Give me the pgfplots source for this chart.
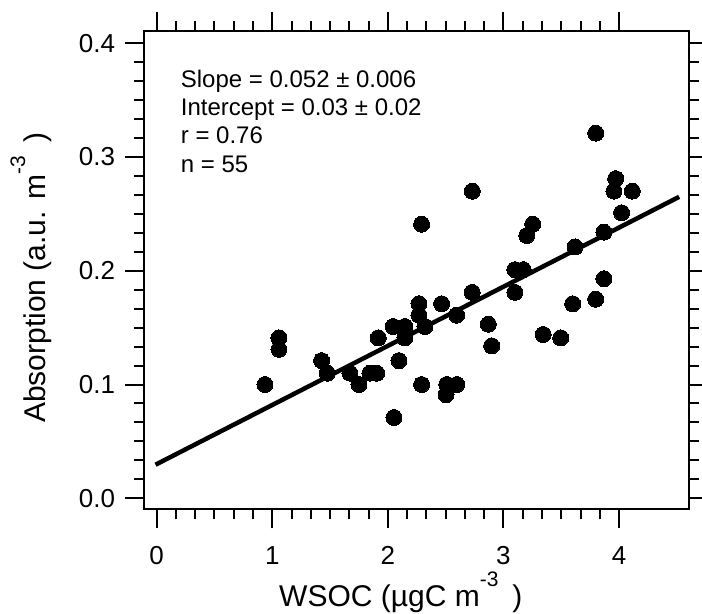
\documentclass[border=0pt]{standalone}
\usepackage{fontspec}
\setmainfont{Liberation Sans}
\usepackage{pgfplots}
\pgfplotsset{compat=1.18}
\begin{document}
\begin{tikzpicture}
\begin{axis}[
  name=ax,
  scale only axis,
  width=544.7bp, height=478.3bp,
  xmin=-0.107, xmax=4.605,
  ymin=-0.0097, ymax=0.4108,
  axis line style={line width=2bp},
  every tick/.style={black, line width=2bp},
  tick align=outside,
  major tick length=19bp,
  minor tick length=10bp,
  xtick={0,1,2,3,4},
  ytick={0,0.1,0.2,0.3,0.4},
  minor x tick num=5,
  minor y tick num=5,
  xticklabels={0,1,2,3,4},
  yticklabels={0.0,0.1,0.2,0.3,0.4},
  /pgf/number format/assume math mode=true,
  tick label style={font=\fontsize{26bp}{30bp}\selectfont},
  xticklabel style={anchor=north, inner sep=0pt, yshift=-18bp},
  yticklabel style={anchor=east, inner sep=0pt, xshift=-10bp},
  xlabel={WSOC (µgC m\raisebox{20bp}{\fontsize{21bp}{21bp}\selectfont -3}\hspace{14bp})},
  ylabel={Absorption (a.u. m\raisebox{20bp}{\fontsize{21bp}{21bp}\selectfont -3}\hspace{14bp})},
  label style={font=\fontsize{30bp}{34bp}\selectfont},
  xlabel style={at={(axis description cs:0.471,-0.2028)}, anchor=base, inner sep=0pt},
  ylabel style={at={(axis description cs:-0.1823,0.4846)}, anchor=base, rotate=0, inner sep=0pt},
]
\addplot[only marks, mark=*, mark size=8bp, black, mark options={draw=black, fill=black, line width=0pt}] coordinates {
(0.937,0.100) (1.058,0.141) (1.058,0.131) (1.427,0.121) (1.476,0.110)
(1.672,0.110) (1.750,0.100) (1.845,0.110) (1.903,0.110) (1.917,0.141)
(2.047,0.151) (2.096,0.121) (2.053,0.071) (2.148,0.151) (2.148,0.141)
(2.269,0.171) (2.269,0.161) (2.321,0.151) (2.292,0.100) (2.465,0.171)
(2.595,0.161) (2.730,0.181) (3.099,0.201) (3.171,0.201) (3.099,0.181)
(2.869,0.153) (2.898,0.134) (2.509,0.100) (2.595,0.100) (2.503,0.091)
(3.344,0.144) (3.495,0.141) (3.599,0.171) (3.798,0.175) (3.869,0.193)
(2.730,0.270) (3.798,0.321) (3.971,0.281) (3.956,0.270) (4.114,0.270)
(4.022,0.251) (3.253,0.241) (3.201,0.231) (3.619,0.221) (3.869,0.234)
(2.292,0.241)
};
\addplot[black, line width=4.5bp] coordinates {(-0.01,0.0295) (4.52,0.265)};
\node[anchor=base west, inner sep=0pt, font=\fontsize{24bp}{28bp}\selectfont] at (axis cs:0.2076,0.3613) {Slope = 0.052 ± 0.006};
\node[anchor=base west, inner sep=0pt, font=\fontsize{24bp}{28bp}\selectfont] at (axis cs:0.2076,0.3364) {Intercept = 0.03 ± 0.02};
\node[anchor=base west, inner sep=0pt, font=\fontsize{24bp}{28bp}\selectfont] at (axis cs:0.2076,0.3115) {r = 0.76};
\node[anchor=base west, inner sep=0pt, font=\fontsize{24bp}{28bp}\selectfont] at (axis cs:0.2076,0.2866) {n = 55};
\end{axis}
\pgfresetboundingbox
\path (ax.south west) ++(-144.3bp,-104.7bp) rectangle ++(702bp,614bp);
\end{tikzpicture}
\end{document}
